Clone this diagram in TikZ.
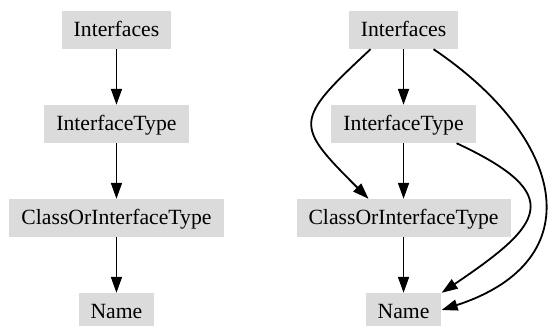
\documentclass[tikz,border=0pt]{standalone}
\usepackage{fontspec}
\setmainfont{Liberation Serif}
\usepackage{tikz}
\usetikzlibrary{matrix,arrows.meta}
\definecolor{boxgray}{RGB}{219,219,219}
\tikzset{
  tbox/.style={fill=boxgray,inner xsep=12bp,inner ysep=0pt,minimum height=38bp,
    text height=15bp,text depth=1.6bp,font=\rmfamily\fontsize{21.7bp}{26bp}\selectfont},
  arr/.style={line width=1.8bp,-{Triangle[length=16bp,width=11bp]}}
}

\begin{document}
\begin{tikzpicture}[x=1bp,y=1bp]
  \useasboundingbox (0,0) rectangle (550,325);
  \matrix (m) at (260,154) [matrix of nodes,inner sep=0pt,row sep=56bp,column sep=73bp,nodes={tbox}]
  { Interfaces           & Interfaces \\
    InterfaceType        & InterfaceType \\
    ClassOrInterfaceType & ClassOrInterfaceType \\
    Name                 & Name \\};
  \path[arr]
    (m-1-1) edge (m-2-1)
    (m-2-1) edge (m-3-1)
    (m-3-1) edge (m-4-1)
    (m-1-2) edge (m-2-2)
    (m-2-2) edge (m-3-2)
    (m-3-2) edge (m-4-2)
    ([xshift=-33bp]m-1-2.south) edge[out=223,in=135,looseness=1.8] ([xshift=-35bp]m-3-2.north)
    ([xshift=53bp]m-2-2.south)  edge[out=-25,in=34,looseness=2.08] (m-4-2.north east)
    ([xshift=30bp]m-1-2.south)  edge[out=-34,in=18,looseness=1.56] ([yshift=2bp]m-4-2.east);
\end{tikzpicture}
\end{document}
